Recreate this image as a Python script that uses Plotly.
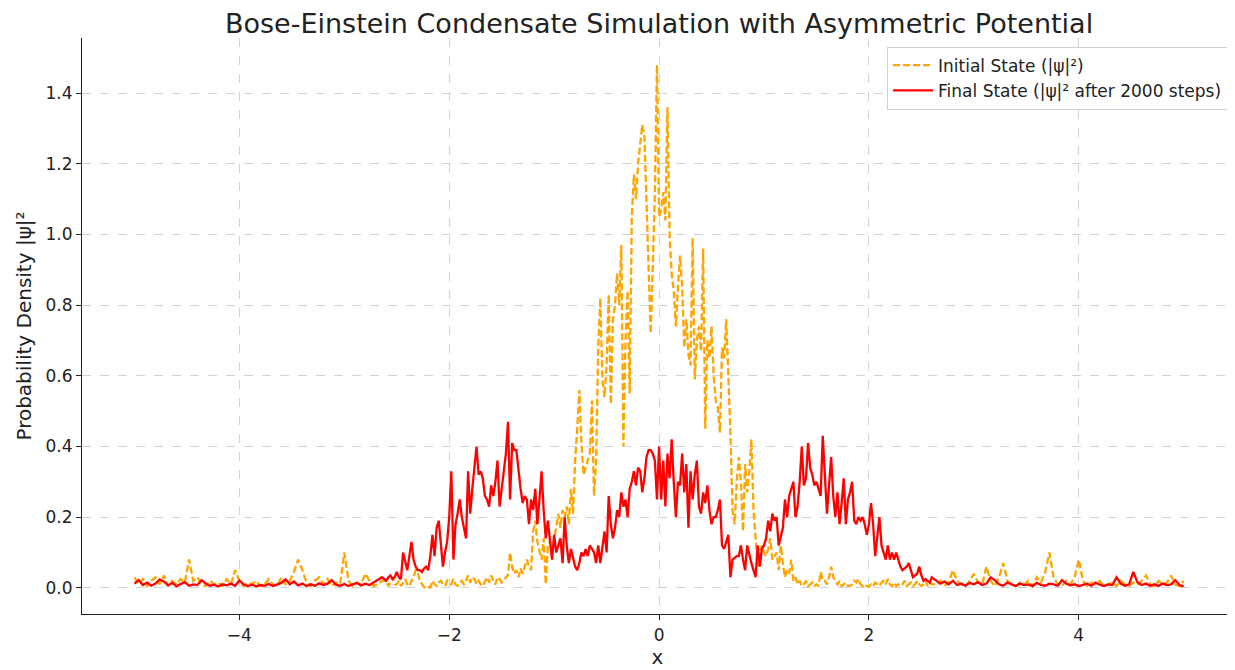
import numpy as np
import plotly.graph_objects as go

# ---- grid segments (x positions) ----
x_left = np.round(np.arange(60) * 0.04 - 5.0, 4)          # -5.00 .. -2.64
x_mid = np.round(np.arange(261) * 0.02 - 2.6, 4)          # -2.60 .. 2.60
x_right = np.round(np.arange(60) * 0.04 + 2.64, 4)        # 2.64 .. 5.00

# ---- Initial state |psi|^2 (orange dashed) ----
initial_left = [0.03, 0.01, 0.025, 0.005, 0.02, 0.03, 0.01, 0.035, 0.005, 0.02,
                0.01, 0.025, 0.015, 0.08, 0.02, 0.03, 0.01, 0.005, 0.02, 0.01,
                0.015, 0.005, 0.025, 0.01, 0.05, 0.02, 0.005, 0.015, 0.01, 0.02,
                0.005, 0.01, 0.025, 0.01, 0.005, 0.03, 0.01, 0.02, 0.045, 0.08,
                0.05, 0.015, 0.005, 0.02, 0.03, 0.01, 0.025, 0.005, 0.015, 0.01,
                0.10, 0.02, 0.005, 0.015, 0.01, 0.04, 0.02, 0.005, 0.01, 0.02]
initial_mid = [0.02, 0.005, 0.015, 0.03, 0.01, 0.01, 0.02, 0.005, 0.015, 0.025,
               0.01, 0.005, 0.02, 0.03, 0.05, 0.045, 0.02, 0.01, 0.002, 0.0,
               0.003, 0.001, 0.02, 0.01, 0.005, 0.015, 0.02, 0.01, 0.005, 0.02,
               0.015, 0.01, 0.025, 0.01, 0.005, 0.015, 0.02, 0.01, 0.02, 0.035,
               0.015, 0.03, 0.025, 0.01, 0.02, 0.01, 0.005, 0.02, 0.03, 0.015,
               0.035, 0.02, 0.01, 0.03, 0.025, 0.015, 0.02, 0.03, 0.035, 0.10,
               0.06, 0.04, 0.05, 0.03, 0.055, 0.04, 0.06, 0.08, 0.06, 0.05,
               0.16, 0.19, 0.13, 0.10, 0.08, 0.14, 0.01, 0.12, 0.13, 0.10,
               0.14, 0.17, 0.21, 0.17, 0.22, 0.20, 0.23, 0.18, 0.28, 0.21,
               0.36, 0.45, 0.56, 0.41, 0.32, 0.34, 0.36, 0.38, 0.53, 0.26,
               0.36, 0.68, 0.82, 0.59, 0.54, 0.63, 0.83, 0.52, 0.76, 0.80,
               0.89, 0.80, 0.97, 0.40, 0.70, 0.84, 0.55, 1.05, 1.17, 1.10,
               1.20, 1.25, 1.31, 1.28, 1.07, 0.90, 0.72, 0.91, 1.12, 1.48,
               1.05, 1.07, 1.12, 1.04, 1.36, 1.00, 0.89, 0.84, 0.74, 0.85,
               0.94, 0.85, 0.68, 0.76, 0.66, 0.63, 0.99, 0.59, 0.70, 0.74,
               0.67, 0.96, 0.45, 0.70, 0.65, 0.74, 0.60, 0.53, 0.51, 0.44,
               0.68, 0.65, 0.76, 0.60, 0.44, 0.22, 0.18, 0.30, 0.37, 0.30,
               0.16, 0.35, 0.27, 0.33, 0.42, 0.22, 0.14, 0.06, 0.10, 0.12,
               0.10, 0.09, 0.11, 0.14, 0.08, 0.09, 0.10, 0.05, 0.12, 0.07,
               0.03, 0.05, 0.04, 0.08, 0.02, 0.03, 0.01, 0.02, 0.005, 0.01,
               0.02, 0.005, 0.01, 0.015, 0.005, 0.01, 0.005, 0.045, 0.02, 0.02,
               0.01, 0.03, 0.06, 0.03, 0.02, 0.01, 0.02, 0.005, 0.01, 0.015,
               0.005, 0.005, 0.01, 0.02, 0.015, 0.025, 0.01, 0.005, 0.01, 0.005,
               0.003, 0.01, 0.005, 0.015, 0.01, 0.005, 0.015, 0.02, 0.01, 0.025,
               0.01, 0.005, 0.015, 0.005, 0.01, 0.005, 0.01, 0.02, 0.005, 0.01,
               0.015, 0.005, 0.01, 0.02, 0.01, 0.005, 0.01, 0.02, 0.005, 0.015,
               0.01]
initial_right = [0.01, 0.02, 0.005, 0.015, 0.05, 0.02, 0.01, 0.005, 0.02, 0.04,
                 0.015, 0.01, 0.06, 0.02, 0.005, 0.03, 0.07, 0.02, 0.01, 0.005,
                 0.015, 0.01, 0.02, 0.005, 0.03, 0.015, 0.045, 0.10, 0.03, 0.01,
                 0.005, 0.02, 0.01, 0.03, 0.08, 0.02, 0.005, 0.015, 0.01, 0.02,
                 0.005, 0.01, 0.015, 0.005, 0.02, 0.01, 0.005, 0.015, 0.01, 0.02,
                 0.035, 0.01, 0.005, 0.02, 0.01, 0.015, 0.035, 0.01, 0.005, 0.02]

# ---- Final state |psi|^2 after 2000 steps (red solid) ----
final_left = [0.012, 0.022, 0.008, 0.015, 0.006, 0.012, 0.024, 0.018, 0.007, 0.014,
              0.005, 0.011, 0.016, 0.006, 0.01, 0.008, 0.022, 0.012, 0.006, 0.009,
              0.004, 0.01, 0.007, 0.012, 0.006, 0.021, 0.01, 0.005, 0.009, 0.004,
              0.008, 0.006, 0.011, 0.005, 0.009, 0.014, 0.024, 0.01, 0.018, 0.007,
              0.012, 0.005, 0.01, 0.006, 0.013, 0.008, 0.012, 0.022, 0.009, 0.006,
              0.011, 0.005, 0.01, 0.014, 0.007, 0.012, 0.008, 0.016, 0.024, 0.03]
final_mid = [0.02, 0.03, 0.035, 0.025, 0.03, 0.045, 0.03, 0.025, 0.10, 0.07,
             0.05, 0.09, 0.13, 0.08, 0.06, 0.05, 0.05, 0.045, 0.055, 0.06,
             0.05, 0.09, 0.15, 0.09, 0.17, 0.19, 0.12, 0.06, 0.10, 0.13,
             0.20, 0.33, 0.08, 0.18, 0.21, 0.25, 0.20, 0.17, 0.14, 0.33,
             0.21, 0.28, 0.35, 0.40, 0.32, 0.33, 0.31, 0.26, 0.25, 0.23,
             0.29, 0.26, 0.30, 0.36, 0.23, 0.28, 0.32, 0.38, 0.47, 0.25,
             0.41, 0.39, 0.39, 0.33, 0.28, 0.24, 0.26, 0.25, 0.18, 0.25,
             0.22, 0.28, 0.18, 0.25, 0.33, 0.22, 0.14, 0.19, 0.13, 0.08,
             0.15, 0.10, 0.12, 0.14, 0.07, 0.20, 0.12, 0.07, 0.11, 0.08,
             0.06, 0.05, 0.07, 0.10, 0.09, 0.11, 0.09, 0.12, 0.11, 0.10,
             0.07, 0.12, 0.07, 0.11, 0.16, 0.10, 0.26, 0.18, 0.14, 0.17,
             0.22, 0.20, 0.27, 0.23, 0.25, 0.20, 0.28, 0.30, 0.33, 0.29,
             0.34, 0.33, 0.27, 0.31, 0.37, 0.39, 0.39, 0.38, 0.36, 0.25,
             0.40, 0.25, 0.36, 0.23, 0.38, 0.31, 0.42, 0.30, 0.20, 0.30,
             0.29, 0.38, 0.27, 0.35, 0.17, 0.33, 0.25, 0.32, 0.36, 0.23,
             0.21, 0.27, 0.24, 0.29, 0.22, 0.18, 0.20, 0.20, 0.22, 0.25,
             0.12, 0.11, 0.13, 0.15, 0.03, 0.08, 0.085, 0.09, 0.09, 0.12,
             0.08, 0.05, 0.12, 0.09, 0.07, 0.05, 0.03, 0.12, 0.06, 0.11,
             0.12, 0.14, 0.19, 0.16, 0.21, 0.19, 0.20, 0.12, 0.15, 0.17,
             0.25, 0.20, 0.26, 0.28, 0.30, 0.20, 0.23, 0.30, 0.40, 0.29,
             0.31, 0.41, 0.34, 0.32, 0.29, 0.30, 0.28, 0.26, 0.43, 0.31,
             0.21, 0.29, 0.37, 0.26, 0.20, 0.27, 0.18, 0.24, 0.31, 0.18,
             0.25, 0.27, 0.30, 0.19, 0.18, 0.20, 0.19, 0.20, 0.18, 0.15,
             0.18, 0.24, 0.18, 0.09, 0.14, 0.20, 0.12, 0.10, 0.08, 0.12,
             0.08, 0.10, 0.08, 0.10, 0.08, 0.06, 0.05, 0.055, 0.06, 0.07,
             0.05, 0.03, 0.035, 0.04, 0.06, 0.035, 0.02, 0.025, 0.02, 0.015,
             0.03]
final_right = [0.02, 0.012, 0.018, 0.01, 0.02, 0.008, 0.012, 0.006, 0.014, 0.01,
               0.016, 0.008, 0.012, 0.03, 0.022, 0.01, 0.006, 0.015, 0.01, 0.005,
               0.012, 0.008, 0.01, 0.005, 0.014, 0.008, 0.006, 0.012, 0.01, 0.006,
               0.022, 0.012, 0.007, 0.01, 0.005, 0.008, 0.012, 0.006, 0.015, 0.009,
               0.005, 0.01, 0.008, 0.03, 0.012, 0.006, 0.01, 0.045, 0.015, 0.008,
               0.012, 0.006, 0.01, 0.005, 0.012, 0.008, 0.01, 0.022, 0.008, 0.004]

x_ticks = [-4, -2, 0, 2, 4]
x_tick_labels = ["\u22124", "\u22122", "0", "2", "4"]
y_ticks = [0.0, 0.2, 0.4, 0.6, 0.8, 1.0, 1.2, 1.4]

x = np.concatenate([x_left, x_mid, x_right])
initial = initial_left + initial_mid + initial_right
final = final_left + final_mid + final_right

FONT = "DejaVu Sans"
fig = go.Figure()
fig.add_trace(go.Scatter(x=x, y=initial, mode="lines",
                         name="Initial State (|\u03c8|\u00b2)",
                         line=dict(color="#FFA500", width=2.3, dash="7px,3px")))
fig.add_trace(go.Scatter(x=x, y=final, mode="lines",
                         name="Final State (|\u03c8|\u00b2 after 2000 steps)",
                         line=dict(color="#FF0000", width=2.3)))

axis_common = dict(showline=True, linecolor="#222", linewidth=1.2,
                   ticks="outside", ticklen=5, tickcolor="#222", tickwidth=1,
                   showgrid=True, gridcolor="#d3d3d3", griddash="dash", gridwidth=1,
                   zeroline=False, mirror=False, automargin=False,
                   tickfont=dict(family=FONT, size=17, color="#222"))

fig.update_layout(
    width=1227, height=662,
    margin=dict(l=74, r=2, t=30, b=56),
    paper_bgcolor="white", plot_bgcolor="white",
    title=dict(text="Bose-Einstein Condensate Simulation with Asymmetric Potential",
               x=0.5306, xanchor="center", y=0.977, yanchor="middle",
               font=dict(family=FONT, size=27, color="#222")),
    xaxis=dict(range=[-5.5, 5.47], tickvals=x_ticks, ticktext=x_tick_labels,
               title=dict(text="x", font=dict(family=FONT, size=20, color="#222"), standoff=2),
               **axis_common),
    yaxis=dict(range=[-0.074, 1.556], tickvals=y_ticks, tickformat=".1f",
               title=dict(text="Probability Density |\u03c8|\u00b2",
                          font=dict(family=FONT, size=20, color="#222"), standoff=8),
               **axis_common),
    legend=dict(x=0.9957, y=0.985, xanchor="right", yanchor="top",
                bgcolor="rgba(255,255,255,0.85)", bordercolor="#d0d0d0", borderwidth=1,
                font=dict(family=FONT, size=17, color="#222"),
                itemwidth=40, tracegroupgap=2),
    showlegend=True,
)

fig.write_html("out.html")
